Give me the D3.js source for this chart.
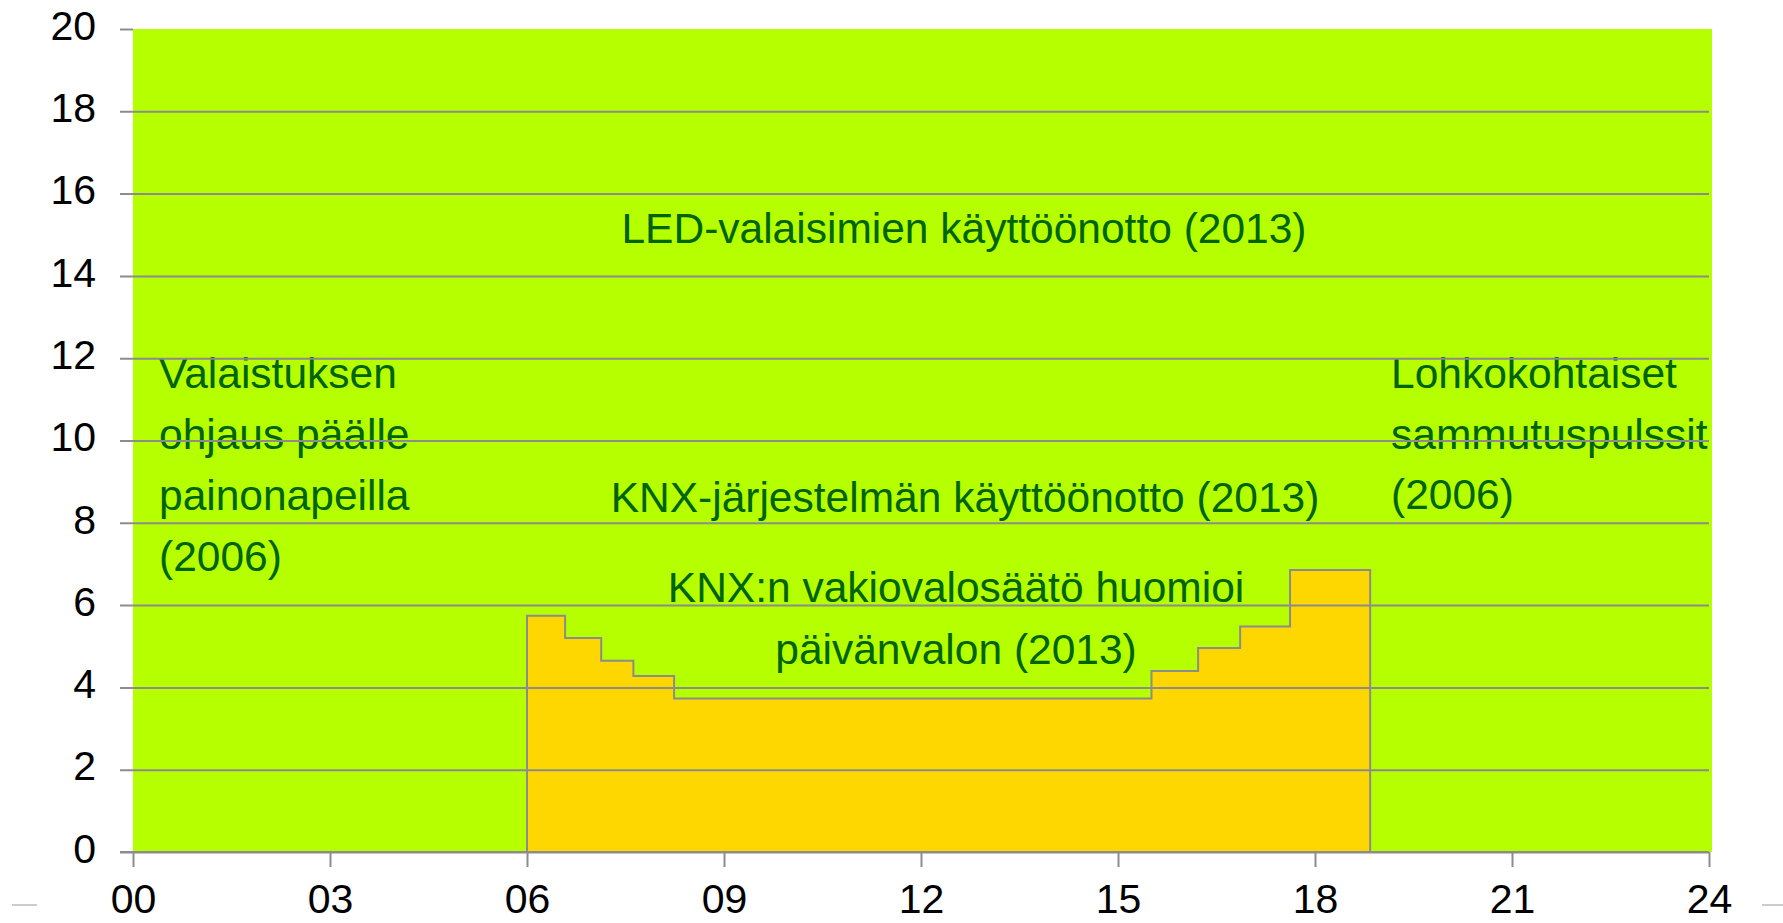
<!DOCTYPE html>
<html>
<head>
<meta charset="utf-8">
<script src="https://cdn.jsdelivr.net/npm/d3@7/dist/d3.min.js"></script>
<style>
  html, body { margin: 0; padding: 0; background: #ffffff; }
  svg { display: block; }
  text { font-family: "Liberation Sans", Arial, sans-serif; }
</style>
</head>
<body>
<svg id="chart" width="1783" height="923"></svg>
<script>
// ---- data ----
const xTickValues = [0, 3, 6, 9, 12, 15, 18, 21, 24];
const xTickLabels = ["00", "03", "06", "09", "12", "15", "18", "21", "24"];
const yTickValues = [0, 2, 4, 6, 8, 10, 12, 14, 16, 18, 20];
const stepHours  = [6.0, 6.58, 7.13, 7.62, 8.24, 15.51, 16.22, 16.86, 17.62, 18.84];
const stepValues = [5.74, 5.20, 4.65, 4.28, 3.73, 4.40, 4.96, 5.48, 6.85, 6.85];
const annLeft  = ["Valaistuksen", "ohjaus päälle", "painonapeilla", "(2006)"];
const annRight = ["Lohkokohtaiset", "sammutuspulssit", "(2006)"];
const annLed   = ["LED-valaisimien käyttöönotto (2013)"];
const annKnx   = ["KNX-järjestelmän käyttöönotto (2013)"];
const annKnxV  = ["KNX:n vakiovalosäätö huomioi", "päivänvalon (2013)"];

// ---- layout ----
const svg = d3.select("#chart");
const x = d3.scaleLinear().domain([0, 24]).range([133, 1709]);
const y = d3.scaleLinear().domain([0, 20]).range([852, 29]);
const gridColor = "#8c8c8c";
const textGreen = "#006400";
const fontSize = 42.5;
const tickFont = 41;

// plot background
svg.append("rect")
  .attr("x", x(0)).attr("y", y(20))
  .attr("width", x(24) - x(0) + 3).attr("height", y(0) - y(20))
  .attr("fill", "#b5ff00");

// yellow step area
const pts = stepHours.map((h, i) => [h, stepValues[i]]);
const area = d3.area()
  .x(d => x(d[0]))
  .y0(y(0))
  .y1(d => y(d[1]))
  .curve(d3.curveStepAfter);
svg.append("path")
  .datum(pts)
  .attr("d", area)
  .attr("fill", "#ffd700")
  .attr("stroke", gridColor)
  .attr("stroke-width", 2);

// annotations
function addLines(lines, xPos, yBase, spacing, anchor) {
  const t = svg.append("text")
    .attr("fill", textGreen)
    .attr("font-size", fontSize)
    .attr("text-anchor", anchor);
  lines.forEach((l, i) => {
    t.append("tspan").attr("x", xPos).attr("y", yBase + i * spacing).text(l);
  });
}
addLines(annLeft, 159, 388, 61, "start");
addLines(annRight, 1391, 388, 60.5, "start");
addLines(annLed, 964, 243, 61, "middle");
addLines(annKnx, 965, 512, 61, "middle");
addLines(annKnxV, 956, 602, 62, "middle");

// y gridlines + ticks
const yAxis = d3.axisLeft(y)
  .tickValues(yTickValues)
  .tickSize(-(x(24) - x(0)))
  .tickPadding(37)
  .tickFormat(d3.format("d"));
const gy = svg.append("g")
  .attr("transform", `translate(${x(0)},0)`)
  .call(yAxis);
gy.select(".domain").remove();
gy.selectAll(".tick line")
  .attr("x1", -13)
  .attr("stroke", gridColor)
  .attr("stroke-width", 2)
  .attr("stroke-opacity", d => d === 20 ? 0 : 1);
gy.selectAll(".tick").filter(d => d === 20).append("line")
  .attr("x1", -13).attr("x2", 0)
  .attr("stroke", gridColor).attr("stroke-width", 2);
gy.selectAll(".tick text")
  .attr("font-size", tickFont)
  .attr("fill", "#000")
  .attr("font-family", "'Liberation Sans', Arial, sans-serif")
  .attr("dy", "0.25em");

// x axis
const xAxis = d3.axisBottom(x)
  .tickValues(xTickValues)
  .tickSize(15)
  .tickPadding(20)
  .tickFormat((d, i) => xTickLabels[i]);
const gx = svg.append("g")
  .attr("transform", `translate(0,${y(0)})`)
  .call(xAxis);
gx.select(".domain")
  .attr("d", `M${x(0) - 13},0H${x(24)}`)
  .attr("stroke", gridColor)
  .attr("stroke-width", 2);
gx.selectAll(".tick line")
  .attr("stroke", gridColor)
  .attr("stroke-width", 2);
gx.selectAll(".tick text")
  .attr("font-size", tickFont)
  .attr("fill", "#000")
  .attr("font-family", "'Liberation Sans', Arial, sans-serif")
  .attr("y", 61)
  .attr("dy", 0);

// slide decoration dashes
svg.append("line").attr("x1", 12).attr("x2", 37).attr("y1", 905).attr("y2", 905)
  .attr("stroke", "#cccccc").attr("stroke-width", 2);
svg.append("line").attr("x1", 1762).attr("x2", 1783).attr("y1", 905).attr("y2", 905)
  .attr("stroke", "#cccccc").attr("stroke-width", 2);
</script>
</body>
</html>
